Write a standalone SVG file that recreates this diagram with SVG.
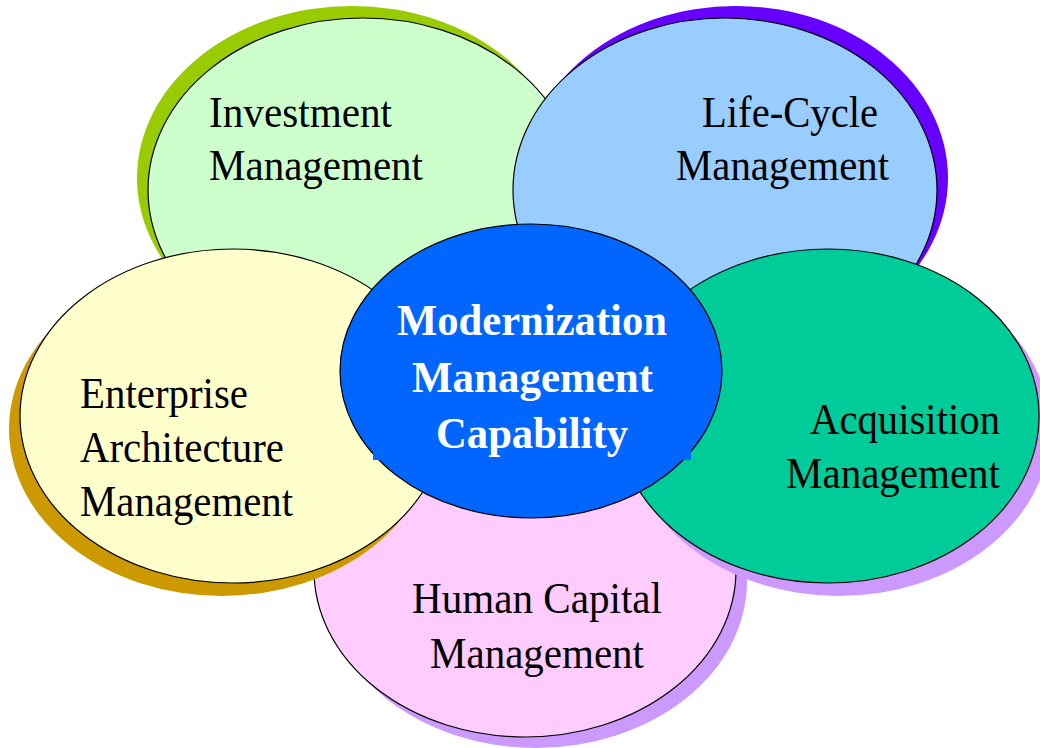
<svg xmlns="http://www.w3.org/2000/svg" width="1040" height="748" viewBox="0 0 1040 748">
<style>
.main{stroke:#000;stroke-width:1.2}
.lbl{font-family:"Liberation Serif","Times New Roman",serif;font-size:45px;fill:#000}
.ctr{font-family:"Liberation Serif","Times New Roman",serif;font-size:44px;font-weight:bold;fill:#fff}
</style>
<rect width="1040" height="748" fill="#fff"/>
<g id="connectors"></g>
<g id="investment">
<ellipse cx="352" cy="178" rx="215" ry="172" fill="#99CC00"/>
<ellipse class="main" cx="363" cy="190" rx="215" ry="172" fill="#CCFFCC"/>
<text class="lbl" x="209" y="127" textLength="183" lengthAdjust="spacingAndGlyphs">Investment</text>
<text class="lbl" x="209" y="180" textLength="214" lengthAdjust="spacingAndGlyphs">Management</text>
</g>
<g id="lifecycle">
<ellipse cx="736" cy="178" rx="212" ry="172" fill="#6600FF"/>
<ellipse class="main" cx="725" cy="190" rx="212" ry="172" fill="#99CCFF"/>
<text class="lbl" x="702" y="127" textLength="176" lengthAdjust="spacingAndGlyphs">Life-Cycle</text>
<text class="lbl" x="676" y="180" textLength="213" lengthAdjust="spacingAndGlyphs">Management</text>
</g>
<g id="humancapital">
<ellipse cx="536" cy="581" rx="211" ry="167" fill="#CC99FF"/>
<ellipse class="main" cx="525" cy="570" rx="211" ry="167" fill="#FFCCFF"/>
<text class="lbl" x="412" y="613" textLength="250" lengthAdjust="spacingAndGlyphs">Human Capital</text>
<text class="lbl" x="430" y="668" textLength="214" lengthAdjust="spacingAndGlyphs">Management</text>
</g>
<g id="enterprise">
<ellipse cx="222" cy="429" rx="213" ry="167" fill="#CC9900"/>
<ellipse class="main" cx="233" cy="416" rx="213" ry="167" fill="#FFFFCC"/>
<text class="lbl" x="80" y="408" textLength="168" lengthAdjust="spacingAndGlyphs">Enterprise</text>
<text class="lbl" x="80" y="462" textLength="204" lengthAdjust="spacingAndGlyphs">Architecture</text>
<text class="lbl" x="80" y="516" textLength="213" lengthAdjust="spacingAndGlyphs">Management</text>
</g>
<g id="acquisition">
<ellipse cx="839" cy="429" rx="211" ry="167" fill="#CC99FF"/>
<ellipse class="main" cx="828" cy="416" rx="211" ry="167" fill="#00CC99"/>
<text class="lbl" x="810" y="434" textLength="190" lengthAdjust="spacingAndGlyphs">Acquisition</text>
<text class="lbl" x="786" y="488" textLength="214" lengthAdjust="spacingAndGlyphs">Management</text>
</g>
<g id="center">
<ellipse class="main" cx="531" cy="371" rx="191" ry="147" fill="#0066FF"/>
<rect x="373" y="300" width="318" height="160" fill="#0066FF"/>
<text class="ctr" x="397" y="335" textLength="270" lengthAdjust="spacingAndGlyphs">Modernization</text>
<text class="ctr" x="412" y="392" textLength="241" lengthAdjust="spacingAndGlyphs">Management</text>
<text class="ctr" x="436" y="448" textLength="192" lengthAdjust="spacingAndGlyphs">Capability</text>
</g>
</svg>
